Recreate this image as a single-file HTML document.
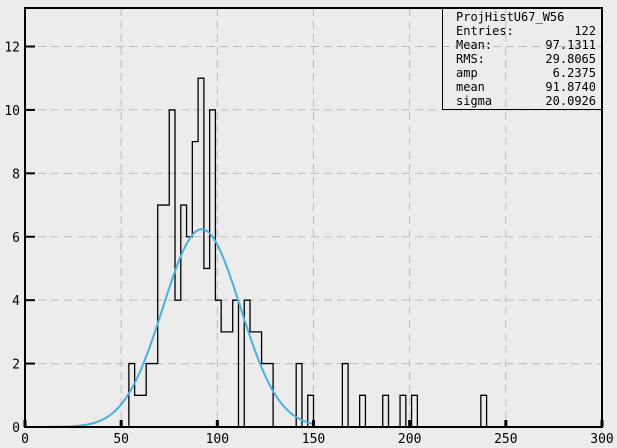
<!DOCTYPE html>
<html><head><meta charset="utf-8"><style>
body{margin:0;background:#ececec;}
svg{display:block;font-family:"DejaVu Sans Mono","Liberation Mono",monospace;}
</style></head><body>
<svg id="c" width="617" height="448">
<rect x="0" y="0" width="617" height="448" fill="#ececec"/>
<g id="grid"></g>
<g id="hist"></g>
<g id="fit"></g>
<g id="axes"></g>
<g font-size="12" fill="#000">
<rect x="442.5" y="8.5" width="160" height="101" fill="none" stroke="#000" stroke-width="1"/>
<text x="456" y="21">ProjHistU67_W56</text>
<text x="456" y="35">Entries:</text><text x="596" y="35" text-anchor="end">122</text>
<text x="456" y="49">Mean:</text><text x="596" y="49" text-anchor="end">97.1311</text>
<text x="456" y="63">RMS:</text><text x="596" y="63" text-anchor="end">29.8065</text>
<text x="456" y="77">amp</text><text x="596" y="77" text-anchor="end">6.2375</text>
<text x="456" y="91">mean</text><text x="596" y="91" text-anchor="end">91.8740</text>
<text x="456" y="105">sigma</text><text x="596" y="105" text-anchor="end">20.0926</text>
</g>
</svg>
<script>
const binStarts=[54,57,60,63,66,69,72,75,78,81,84,87,90,93,96,99,102,105,108,111,114,117,120,123,126,141,147,165,174,186,195,201,237];
const counts=[2,1,1,2,2,7,7,10,4,7,6,9,11,5,10,4,3,3,4,0,4,3,3,2,2,2,1,2,1,1,1,1,1];
const binWidth=3;
const xTicks=[0,50,100,150,200,250,300];
const yTicks=[0,2,4,6,8,10,12];
const fitAmp=6.2375, fitMean=91.874, fitSigma=20.0926, fitRange=[0,150];
const X0=25,X1=602,Y0=427,YT=8;
const sx=v=>X0+(v-0)/300*(X1-X0);
const sy=v=>Y0-v*(427-46.5)/12;
const NS="http://www.w3.org/2000/svg";
function mk(p,t,a){const e=document.createElementNS(NS,t);for(const k in a)e.setAttribute(k,a[k]);p.appendChild(e);return e;}
const grid=document.getElementById('grid'),axes=document.getElementById('axes'),hist=document.getElementById('hist'),fit=document.getElementById('fit');
xTicks.forEach(t=>{
 if(t>0&&t<300){const l=mk(grid,'line',{x1:sx(t),x2:sx(t),y1:YT,y2:Y0,stroke:'#bbb','stroke-dasharray':'8,5'});
 
 }
 const tk=mk(axes,'line',{x1:sx(t),x2:sx(t),y1:Y0,y2:Y0-7,stroke:'#000','stroke-width':3});
 
 
 const tx=mk(axes,'text',{x:sx(t),y:443,'text-anchor':'middle','font-size':13});tx.textContent=t;
 
 
});
yTicks.forEach(t=>{
 if(t>0){const l=mk(grid,'line',{x1:X0,x2:X1,y1:sy(t),y2:sy(t),stroke:'#bbb','stroke-dasharray':'8,5'});
 
 }
 const tk=mk(axes,'line',{x1:X0,x2:X0+10,y1:sy(t),y2:sy(t),stroke:'#000','stroke-width':2});
 
 
 const tx=mk(axes,'text',{x:20,y:sy(t)+5,'text-anchor':'end','font-size':13});tx.textContent=t;
 
 
});
const fr=mk(axes,'rect',{x:X0,y:YT,width:X1-X0,height:Y0-YT,fill:'none',stroke:'#000','stroke-width':2});


// histogram step outline
let d='',prevEnd=null,prevH=0;
binStarts.forEach((s,i)=>{
 const h=counts[i];
 if(prevEnd===null||prevEnd!==s){ if(prevEnd!==null) d+=`L${sx(prevEnd)},${sy(0)}`; d+=`M${sx(s)},${sy(0)}`;}
 d+=`L${sx(s)},${sy(h)}L${sx(s+binWidth)},${sy(h)}`;
 prevEnd=s+binWidth;prevH=h;
});
d+=`L${sx(prevEnd)},${sy(0)}`;
const hp=mk(hist,'path',{d:d,fill:'none',stroke:'#000','stroke-width':1.3});


let fd='';
for(let v=fitRange[0];v<=fitRange[1];v+=1){const y=fitAmp*Math.exp(-0.5*((v-fitMean)/fitSigma)**2);fd+=(fd?'L':'M')+sx(v)+','+sy(y);}
const fp=mk(fit,'path',{d:fd,fill:'none',stroke:'#4ab0e0','stroke-width':2});


</script>
</body></html>
